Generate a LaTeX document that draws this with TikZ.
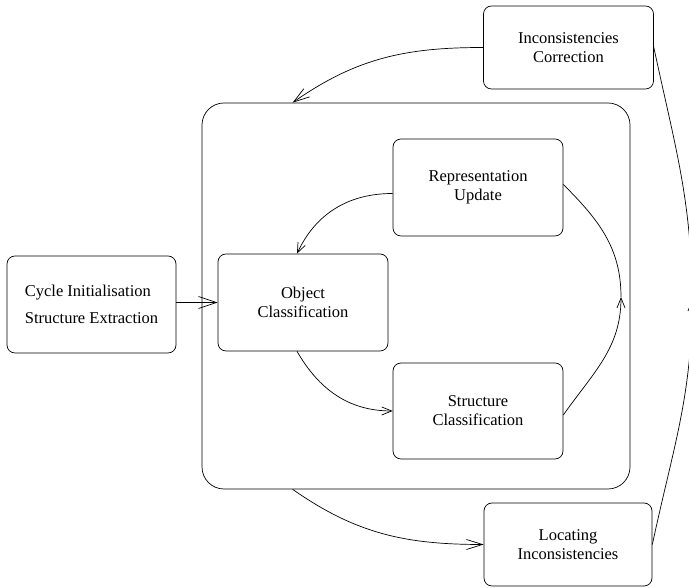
\documentclass[tikz,border=0pt]{standalone}
\usepackage{fontspec}
\setmainfont{Liberation Serif}
\usetikzlibrary{arrows.meta,calc}

\begin{document}
\begin{tikzpicture}[x=1pt, y=1pt,
		stage/.style={draw, rounded corners=8pt, line width=0.7pt, align=center, inner sep=0pt,
			minimum width=170pt, minimum height=97pt, font=\fontsize{16.5}{19}\selectfont},
		flow/.style={line width=0.7pt, -{Straight Barb[length=10pt,width=8pt]}},
		longflow/.style={line width=0.7pt, -{Straight Barb[length=16pt,width=10pt]}}]
		%%%%% START %%%%%
		
		\useasboundingbox (0, 0) rectangle (689, 588);
		
		\node[draw, rounded corners=22pt, line width=0.7pt, minimum width=428pt, minimum height=386pt] (box) at (416, 292) {};
		
		\node[stage, minimum height=83pt] (ic) at (568.5, 540.5) {Inconsistencies\\Correction};
		\node[stage] (ru) at (478, 400.5) {Representation\\Update};
		\node[stage] (oc) at (303, 285.5) {Object\\Classification};
		\node[stage, minimum height=96pt] (sc) at (478, 177) {Structure\\Classification};
		\node[stage, minimum width=169pt, align=left, font=\fontsize{16.5}{27}\selectfont] (ci) at (91.5, 283.5) {Cycle Initialisation\\Structure Extraction};
		\node[stage, minimum width=168pt, minimum height=83pt] (li) at (568, 43.5) {Locating\\Inconsistencies};
		
		\coordinate (m1) at (621, 291);
		\coordinate (m2) at (692, 288);
		
		\draw[line width=0.7pt, -{Straight Barb[length=18pt,width=12pt]}] (ci.east |- oc.west) -- (oc.west);
		
		\draw[flow] ([yshift=-6pt]ru.west) to[out=180, in=65] ([xshift=-6pt]oc.north);
		\draw[flow] ([xshift=-6pt]oc.south) to[out=-60, in=180] (sc.west);
		\draw[flow] ([yshift=-4pt]sc.east) to[out=55, in=-90] (m1);
		\draw[line width=0.7pt] (m1) to[out=90, in=-45] ([yshift=3pt]ru.east);
		
		\draw[longflow] (ic.west) to[out=180, in=35] ([xshift=91pt]box.north west);
		\draw[longflow] ([xshift=91pt]box.south west) to[out=-35, in=180] (li.west);
		\draw[flow] (li.east) to[out=78, in=-90] (m2);
		\draw[line width=0.7pt] (m2) to[out=90, in=-78] (ic.east);
		
		%%%%% END %%%%%
	\end{tikzpicture}
\end{document}
